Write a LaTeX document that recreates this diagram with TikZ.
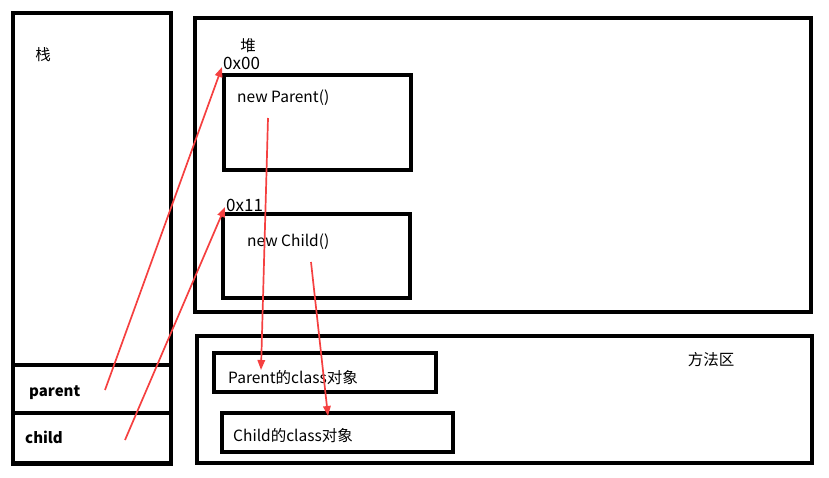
\documentclass[tikz,border=0pt]{standalone}
\usepackage{fontspec}
\setmainfont{Noto Sans CJK SC}
\usetikzlibrary{arrows.meta,positioning}
\definecolor{ptrred}{RGB}{245,64,64}
\tikzset{
  area/.style={draw,line width=4.5pt,anchor=north west,inner sep=0pt,outer sep=0pt},
  obj/.style={draw,line width=4pt,anchor=north west,inner sep=0pt,outer sep=0pt},
  lbl/.style={inner sep=0pt,font=\fontsize{15.5}{18}\selectfont},
  addr/.style={lbl,anchor=west,font=\fontsize{17}{20}\selectfont},
  ref/.style={ptrred,line width=1.7pt,-{Triangle[length=10pt,width=7.5pt]}}
}

\begin{document}
\begin{tikzpicture}[x=1pt,y=-1pt]
    \useasboundingbox (0,0) rectangle (829,477);

    % stack
    \node[area,minimum width=158,minimum height=451] (stack) at (13,13) {};
    \node[area,minimum width=158,minimum height=48] (parentcell) at (13,365) {};
    \node[area,minimum width=158,minimum height=50] (childcell) at (13,413) {};
    \node[lbl] (stacklbl) at (43,55) {栈};
    \node[lbl,anchor=west,font=\fontsize{15}{18}\selectfont\bfseries] (parentvar) at (29,393) {parent};
    \node[lbl,anchor=west,font=\fontsize{15}{18}\selectfont\bfseries] (childvar) at (25,437) {child};

    % heap
    \node[area,minimum width=616,minimum height=294] (heap) at (195,18) {};
    \node[lbl] (heaplbl) at (248,46) {堆};
    \node[addr] (addr0) at (223,63) {0x00};
    \node[obj,minimum width=187,minimum height=95] (parentobj) at (224,75) {};
    \node[lbl,anchor=west] (parenttxt) at (237,98) {new Parent()};
    \node[addr] (addr1) at (226,205) {0x11};
    \node[obj,minimum width=187,minimum height=84] (childobj) at (223,214) {};
    \node[lbl,anchor=west] (childtxt) at (247,242) {new Child()};

    % method area
    \node[area,minimum width=615,minimum height=127] (method) at (197,336) {};
    \node[lbl] (methodlbl) at (711,360) {方法区};
    \node[obj,minimum width=222,minimum height=39] (parentcls) at (214,353) {};
    \node[lbl,anchor=west] (parentclstxt) at (228,378) {Parent的class对象};
    \node[obj,minimum width=231,minimum height=39] (childcls) at (222,413) {};
    \node[lbl,anchor=west] (childclstxt) at (233,436) {Child的class对象};

    % references
    \coordinate (p0) at (105,390);
    \coordinate (p1) at (222,67);
    \coordinate (c0) at (125,440);
    \coordinate (c1) at (225,207);
    \coordinate (pc0) at (268,118);
    \coordinate (pc1) at (261,370);
    \coordinate (cc0) at (311,262);
    \coordinate (cc1) at (328,416);
    \draw[ref] (p0) -- (p1);
    \draw[ref] (c0) -- (c1);
    \draw[ref] (pc0) -- (pc1);
    \draw[ref] (cc0) -- (cc1);
\end{tikzpicture}
\end{document}
